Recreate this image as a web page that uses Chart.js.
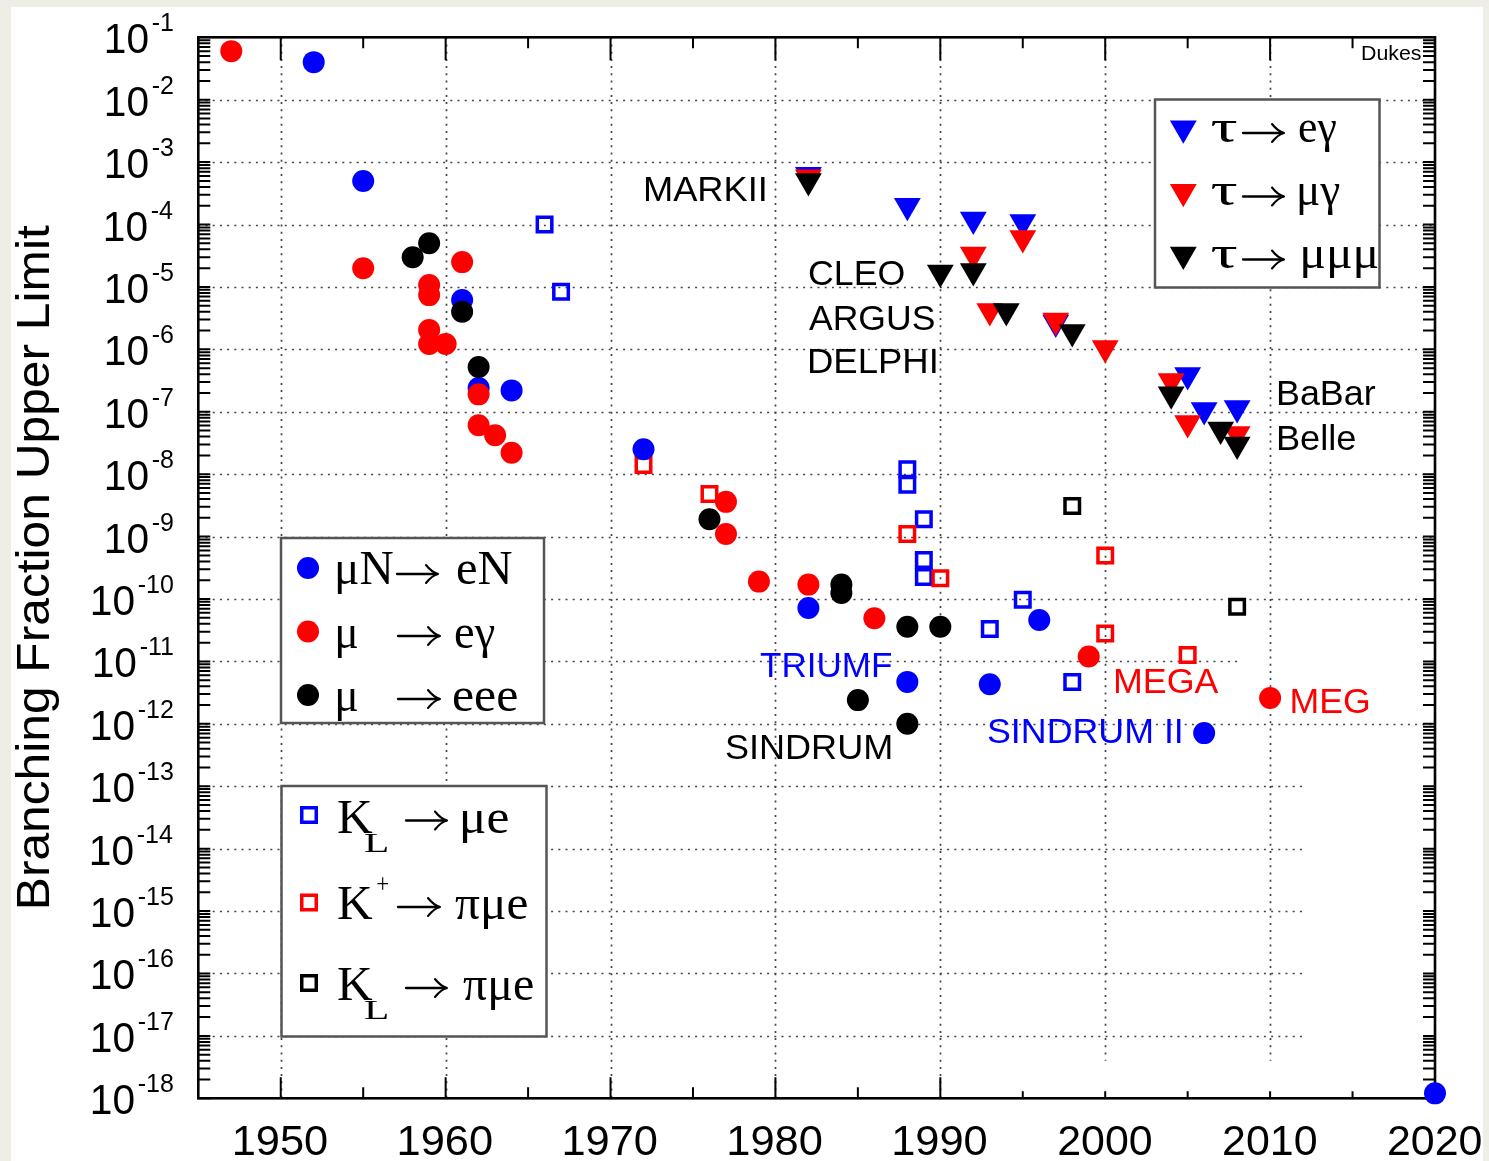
<!DOCTYPE html>
<html>
<head>
<meta charset="utf-8">
<title>Branching fraction upper limits</title>
<script src="https://cdn.jsdelivr.net/npm/chart.js@4.4.1/dist/chart.umd.min.js"></script>
<style>
  html, body { margin: 0; padding: 0; background: #eeeee6; overflow: hidden; }
  canvas { display: block; }
</style>
</head>
<body>
<canvas id="chart" width="1489" height="1161"></canvas>
<script>
// ---------------- data ----------------
const yearTicks = [1950, 1960, 1970, 1980, 1990, 2000, 2010, 2020];
const decadeExponents = [-1, -2, -3, -4, -5, -6, -7, -8, -9, -10, -11, -12, -13, -14, -15, -16, -17, -18];

// mu N -> e N (conversion)
const muNeN_year  = [1952, 1955, 1961, 1962, 1964, 1972, 1982, 1988, 1993, 1996, 2006, 2020];
const muNeN_limit = [4.0e-2, 5.0e-4, 6.2e-6, 2.4e-7, 2.2e-7, 2.5e-8, 7.2e-11, 4.7e-12, 4.3e-12, 4.6e-11, 7.1e-13, 1.2e-18];

// mu -> e gamma
const muEg_year  = [1947, 1955, 1959, 1959, 1961, 1959, 1959, 1960, 1962, 1962, 1963, 1964, 1977, 1977, 1979, 1982, 1986, 1999, 2010];
const muEg_limit = [6.0e-2, 2.0e-5, 1.07e-5, 7.4e-6, 2.5e-5, 2.05e-6, 1.22e-6, 1.22e-6, 1.9e-7, 6.1e-8, 4.2e-8, 2.2e-8, 3.6e-9, 1.1e-9, 1.9e-10, 1.7e-10, 4.9e-11, 1.2e-11, 2.6e-12];

// mu -> e e e
const mu3e_year  = [1958, 1959, 1961, 1962, 1976, 1984, 1984, 1985, 1988, 1990, 1988];
const mu3e_limit = [3.0e-5, 5.0e-5, 4.0e-6, 5.2e-7, 1.9e-9, 1.7e-10, 1.25e-10, 2.4e-12, 3.6e-11, 3.6e-11, 1.0e-12];

// K_L -> mu e
const kLmue_year  = [1966, 1967, 1988, 1988, 1989, 1989, 1989, 1993, 1995, 1998];
const kLmue_limit = [1.0e-4, 8.4e-6, 1.2e-8, 6.8e-9, 1.9e-9, 4.2e-10, 2.25e-10, 3.3e-11, 9.7e-11, 4.7e-12];

// K+ -> pi mu e
const kPpimue_year  = [1972, 1976, 1988, 1990, 2000, 2000, 2005];
const kPpimue_limit = [1.4e-8, 4.8e-9, 1.1e-9, 2.15e-10, 5.0e-10, 2.8e-11, 1.27e-11];

// K_L -> pi mu e
const kLpimue_year  = [1998, 2008];
const kLpimue_limit = [3.1e-9, 7.5e-11];

// tau -> e gamma
const tauEg_year  = [1982, 1988, 1992, 1995, 1997, 2005, 2006, 2008];
const tauEg_limit = [6.3e-4, 2.0e-4, 1.2e-4, 1.1e-4, 2.7e-6, 3.9e-7, 1.07e-7, 1.15e-7];

// tau -> mu gamma
const tauMg_year  = [1982, 1992, 1993, 1995, 1997, 2000, 2004, 2005, 2008];
const tauMg_limit = [5.7e-4, 3.3e-5, 4.1e-6, 6.1e-5, 2.9e-6, 1.05e-6, 3.1e-7, 6.6e-8, 4.4e-8];

// tau -> mu mu mu
const tau3mu_year  = [1982, 1990, 1992, 1994, 1998, 2004, 2007, 2008];
const tau3mu_limit = [5.0e-4, 1.7e-5, 1.8e-5, 4.1e-6, 1.9e-6, 1.9e-7, 5.2e-8, 3.0e-8];

// ---------------- styling ----------------
const BLUE = '#0000ff', RED = '#ff0000', BLACK = '#000000';
const SANS = '"Liberation Sans", Arial, Helvetica, sans-serif';
const SERIF = '"Liberation Serif", "Times New Roman", "DejaVu Serif", serif';

const CIRCLE = { pointStyle: 'circle', radius: 11, rotation: 0, borderWidth: 0, hollow: false };
const SQUARE = { pointStyle: 'rect', radius: 10.25, rotation: 0, borderWidth: 3.5, hollow: true };
const TRIANGLE = { pointStyle: 'triangle', radius: 15.5, rotation: 180, borderWidth: 0, hollow: false };

function series(label, xs, ys, color, marker, order) {
  return {
    label,
    order,
    clip: false,
    showLine: false,
    data: xs.map((x, i) => ({ x, y: ys[i] })),
    pointStyle: marker.pointStyle,
    pointRadius: marker.radius,
    pointRotation: marker.rotation,
    pointBorderWidth: marker.borderWidth,
    pointBackgroundColor: marker.hollow ? 'rgba(0,0,0,0)' : color,
    pointBorderColor: color,
    backgroundColor: marker.hollow ? 'rgba(0,0,0,0)' : color,
    borderColor: color
  };
}

// lower order is painted later (on top)
const datasets = [
  series('τ → μμμ', tau3mu_year, tau3mu_limit, BLACK, TRIANGLE, 0),
  series('τ → μγ', tauMg_year, tauMg_limit, RED, TRIANGLE, 1),
  series('τ → eγ', tauEg_year, tauEg_limit, BLUE, TRIANGLE, 2),
  series('μ → eee', mu3e_year, mu3e_limit, BLACK, CIRCLE, 3),
  series('μ → eγ', muEg_year, muEg_limit, RED, CIRCLE, 4),
  series('μN → eN', muNeN_year, muNeN_limit, BLUE, CIRCLE, 5),
  series('K_L → πμe', kLpimue_year, kLpimue_limit, BLACK, SQUARE, 6),
  series('K+ → πμe', kPpimue_year, kPpimue_limit, RED, SQUARE, 7),
  series('K_L → μe', kLmue_year, kLmue_limit, BLUE, SQUARE, 8)
];

// ---------------- drawing helpers ----------------
// Draws text so that its ink spans [left, left + width] on the given baseline.
function inkText(ctx, str, left, baseline, width, font, color) {
  ctx.save();
  ctx.font = font;
  ctx.fillStyle = color;
  ctx.textAlign = 'left';
  ctx.textBaseline = 'alphabetic';
  const m = ctx.measureText(str);
  const ink = m.actualBoundingBoxLeft + m.actualBoundingBoxRight;
  const s = width ? width / ink : 1;
  ctx.translate(left, baseline);
  ctx.scale(s, 1);
  ctx.fillText(str, m.actualBoundingBoxLeft, 0);
  ctx.restore();
  return ink * s;
}

function inkWidth(ctx, str, font) {
  ctx.save();
  ctx.font = font;
  const m = ctx.measureText(str);
  ctx.restore();
  return m.actualBoundingBoxLeft + m.actualBoundingBoxRight;
}

// Typeset-style right arrow (→) with curved barbs
function arrow(ctx, x0, x1, y) {
  ctx.save();
  ctx.strokeStyle = '#000';
  ctx.lineCap = 'round';
  ctx.lineJoin = 'round';
  ctx.lineWidth = 2.3;
  ctx.beginPath();
  ctx.moveTo(x0, y);
  ctx.lineTo(x1 - 1, y);
  ctx.stroke();
  ctx.lineWidth = 2.1;
  ctx.beginPath();
  ctx.moveTo(x1 - 12, y - 9);
  ctx.quadraticCurveTo(x1 - 6, y - 1.5, x1, y);
  ctx.quadraticCurveTo(x1 - 6, y + 1.5, x1 - 12, y + 9);
  ctx.stroke();
  ctx.restore();
}

function drawMarker(ctx, marker, color, x, y) {
  ctx.save();
  ctx.fillStyle = marker.hollow ? 'rgba(0,0,0,0)' : color;
  ctx.strokeStyle = color;
  ctx.lineWidth = marker.borderWidth;
  const opts = { pointStyle: marker.pointStyle, radius: marker.radius, rotation: marker.rotation, borderWidth: marker.borderWidth };
  if (window.Chart && Chart.helpers && Chart.helpers.drawPoint) {
    Chart.helpers.drawPoint(ctx, opts, x, y);
  } else {
    ctx.beginPath();
    if (marker.pointStyle === 'circle') {
      ctx.arc(x, y, marker.radius, 0, Math.PI * 2);
    } else if (marker.pointStyle === 'rect') {
      const h = Math.SQRT1_2 * marker.radius;
      ctx.rect(x - h, y - h, 2 * h, 2 * h);
    } else {
      const r = marker.radius;
      let a = marker.rotation * Math.PI / 180;
      for (let k = 0; k < 3; k++) {
        const px = x + Math.sin(a) * r, py = y - Math.cos(a) * r;
        k ? ctx.lineTo(px, py) : ctx.moveTo(px, py);
        a += 2 * Math.PI / 3;
      }
      ctx.closePath();
    }
    ctx.fill();
    if (marker.borderWidth > 0) ctx.stroke();
  }
  ctx.restore();
}

function legendBox(ctx, x0, y0, x1, y1) {
  ctx.save();
  ctx.fillStyle = '#ffffff';
  ctx.fillRect(x0, y0, x1 - x0, y1 - y0);
  ctx.strokeStyle = '#555555';
  ctx.lineWidth = 2.5;
  ctx.strokeRect(x0, y0, x1 - x0, y1 - y0);
  ctx.restore();
}

// ---------------- frame, grid, ticks and labels ----------------
const framePlugin = {
  id: 'frame',
  beforeDraw(chart) {
    const ctx = chart.ctx;
    ctx.save();
    ctx.fillStyle = '#eeeee6';
    ctx.fillRect(0, 0, chart.width, chart.height);
    ctx.fillStyle = '#ffffff';
    ctx.fillRect(11, 7, 1472, chart.height - 7);
    ctx.restore();
  },
  beforeDatasetsDraw(chart) {
    const ctx = chart.ctx;
    const xs = chart.scales.x, ys = chart.scales.y;
    const L = chart.chartArea.left, R = chart.chartArea.right;
    const T = chart.chartArea.top, B = chart.chartArea.bottom;

    // dotted grid
    ctx.save();
    ctx.strokeStyle = '#444444';
    ctx.lineWidth = 1.7;
    ctx.setLineDash([2, 5.2]);
    decadeExponents.forEach(e => {
      if (e === -1 || e === -18) return;
      const y = Math.round(ys.getPixelForValue(Math.pow(10, e))) + 0.5;
      let xEnd = R;
      if (e === -11) xEnd = xs.getPixelForValue(2008.2);
      if (e <= -13) xEnd = xs.getPixelForValue(2012.2);
      ctx.beginPath();
      ctx.moveTo(L, y);
      ctx.lineTo(xEnd, y);
      ctx.stroke();
    });
    yearTicks.forEach(yr => {
      if (yr === 2020) return;
      const x = Math.round(xs.getPixelForValue(yr)) + 0.5;
      const yEnd = yr >= 2000 ? ys.getPixelForValue(Math.pow(10, -17.4)) : B;
      ctx.beginPath();
      ctx.moveTo(x, T);
      ctx.lineTo(x, yEnd);
      ctx.stroke();
    });
    ctx.restore();

    // tick marks
    ctx.save();
    ctx.strokeStyle = '#000000';
    ctx.lineWidth = 2;
    ctx.beginPath();
    for (let e = -18; e <= -2; e++) {
      for (let m = 1; m <= 9; m++) {
        const y = ys.getPixelForValue(m * Math.pow(10, e));
        ctx.moveTo(L, y); ctx.lineTo(L + 12, y);
        ctx.moveTo(R, y); ctx.lineTo(R - 12, y);
      }
    }
    for (let yr = 1950; yr <= 2015; yr += 5) {
      const x = xs.getPixelForValue(yr);
      const major = yr % 10 === 0;
      let lenB = yr > 1990 ? 7 : (major ? 21 : 11);
      ctx.moveTo(x, B); ctx.lineTo(x, B - lenB);
      const lenT = major ? 23 : 11;
      ctx.moveTo(x, T); ctx.lineTo(x, T + lenT);
    }
    ctx.stroke();
    ctx.restore();

    // axis frame
    ctx.save();
    ctx.strokeStyle = '#000000';
    ctx.lineWidth = 2.6;
    ctx.strokeRect(L, T, R - L, B - T);
    ctx.restore();

    // y tick labels 10^n
    const supFont = '25px ' + SANS;
    const tenFont = '42px ' + SANS;
    decadeExponents.forEach(e => {
      const y = ys.getPixelForValue(Math.pow(10, e));
      const sup = '-' + Math.abs(e);
      const w = inkWidth(ctx, sup, supFont);
      const supLeft = 173 - w;
      inkText(ctx, sup, supLeft, y - 6, w, supFont, '#000');
      inkText(ctx, '10', supLeft - 5 - 41, y + 16, 41, tenFont, '#000');
    });

    // x tick labels
    yearTicks.forEach(yr => {
      const x = xs.getPixelForValue(yr);
      inkText(ctx, String(yr), x - 46, 1155, 92, '42px ' + SANS, '#000');
    });

    // y axis title
    ctx.save();
    ctx.translate(49, 907);
    ctx.rotate(-Math.PI / 2);
    inkText(ctx, 'Branching Fraction Upper Limit', 0, 0, 682, '46px ' + SANS, '#000');
    ctx.restore();
  },
  afterDatasetsDraw(chart) {
    const ctx = chart.ctx;

    // experiment labels
    const A = '35px ' + SANS;
    inkText(ctx, 'MARKII', 645, 200.5, 120, A, BLACK);
    inkText(ctx, 'CLEO', 809, 285, 95, A, BLACK);
    inkText(ctx, 'ARGUS', 809, 329.5, 125, A, BLACK);
    inkText(ctx, 'DELPHI', 809, 373, 127, A, BLACK);
    inkText(ctx, 'BaBar', 1278, 405, 98, A, BLACK);
    inkText(ctx, 'Belle', 1278, 450, 77, A, BLACK);
    inkText(ctx, 'TRIUMF', 760, 676.5, 131, A, BLUE);
    inkText(ctx, 'SINDRUM', 726, 759, 165, A, BLACK);
    inkText(ctx, 'SINDRUM II', 988, 743, 193, A, BLUE);
    inkText(ctx, 'MEGA', 1115, 692.5, 104, A, RED);
    inkText(ctx, 'MEG', 1291.5, 713, 77, A, RED);
    inkText(ctx, 'Dukes', 1362, 59.5, 59, '21px ' + SANS, BLACK);

    // legend: muon channels
    const F = '48px ' + SERIF;
    const S = '27px ' + SERIF;
    legendBox(ctx, 281, 538, 544, 723);
    drawMarker(ctx, CIRCLE, BLUE, 308, 568);
    drawMarker(ctx, CIRCLE, RED, 308, 631.5);
    drawMarker(ctx, CIRCLE, BLACK, 308, 695);
    inkText(ctx, 'μN', 337, 584, 56, F, BLACK);
    arrow(ctx, 397, 438, 574);
    inkText(ctx, 'eN', 457, 584, 55, F, BLACK);
    inkText(ctx, 'μ', 337, 647.5, 20, F, BLACK);
    arrow(ctx, 398, 440, 636);
    inkText(ctx, 'eγ', 455, 647.5, 40, F, BLACK);
    inkText(ctx, 'μ', 337, 710.5, 20, F, BLACK);
    arrow(ctx, 398, 440, 699);
    inkText(ctx, 'eee', 453, 710.5, 64, F, BLACK);

    // legend: kaon channels
    legendBox(ctx, 281.5, 786, 546.5, 1036.5);
    drawMarker(ctx, SQUARE, BLUE, 309, 815);
    drawMarker(ctx, SQUARE, RED, 309, 902.5);
    drawMarker(ctx, SQUARE, BLACK, 309, 983);
    inkText(ctx, 'K', 338, 832.5, 35, F, BLACK);
    inkText(ctx, 'L', 364, 852, 23, S, BLACK);
    arrow(ctx, 406, 447, 820.5);
    inkText(ctx, 'μe', 462, 832.5, 46, F, BLACK);
    inkText(ctx, 'K', 338, 919, 35, F, BLACK);
    inkText(ctx, '+', 377, 893, 11, S, BLACK);
    arrow(ctx, 398, 440, 907);
    inkText(ctx, 'πμe', 455, 919, 72, F, BLACK);
    inkText(ctx, 'K', 338, 1000, 35, F, BLACK);
    inkText(ctx, 'L', 364, 1019, 23, S, BLACK);
    arrow(ctx, 406, 447, 988);
    inkText(ctx, 'πμe', 463, 1000, 70, F, BLACK);

    // legend: tau channels
    const G = '46px ' + SERIF;
    legendBox(ctx, 1155, 99.5, 1379.5, 287.5);
    drawMarker(ctx, TRIANGLE, BLUE, 1183.3, 128.2);
    drawMarker(ctx, TRIANGLE, RED, 1183.3, 191.8);
    drawMarker(ctx, TRIANGLE, BLACK, 1183.3, 254.4);
    inkText(ctx, 'τ', 1212, 141.7, 25, G, BLACK);
    arrow(ctx, 1243, 1284, 133);
    inkText(ctx, 'eγ', 1299, 141.7, 37.5, G, BLACK);
    inkText(ctx, 'τ', 1212, 205, 25, G, BLACK);
    arrow(ctx, 1243, 1284, 196.5);
    inkText(ctx, 'μγ', 1299, 205, 41, G, BLACK);
    inkText(ctx, 'τ', 1212, 268.3, 25, G, BLACK);
    arrow(ctx, 1243, 1284, 259.5);
    inkText(ctx, 'μμμ', 1302.5, 268.3, 75, G, BLACK);
  }
};

// ---------------- chart ----------------
new Chart(document.getElementById('chart').getContext('2d'), {
  type: 'scatter',
  data: { datasets },
  options: {
    responsive: false,
    animation: false,
    events: [],
    layout: { padding: { left: 198.3, top: 37.3, right: 54, bottom: 62.7 } },
    plugins: { legend: { display: false }, tooltip: { enabled: false } },
    scales: {
      x: { type: 'linear', min: 1945, max: 2020, display: false },
      y: { type: 'logarithmic', min: 1e-18, max: 1e-1, display: false }
    }
  },
  plugins: [framePlugin]
});
</script>
</body>
</html>
